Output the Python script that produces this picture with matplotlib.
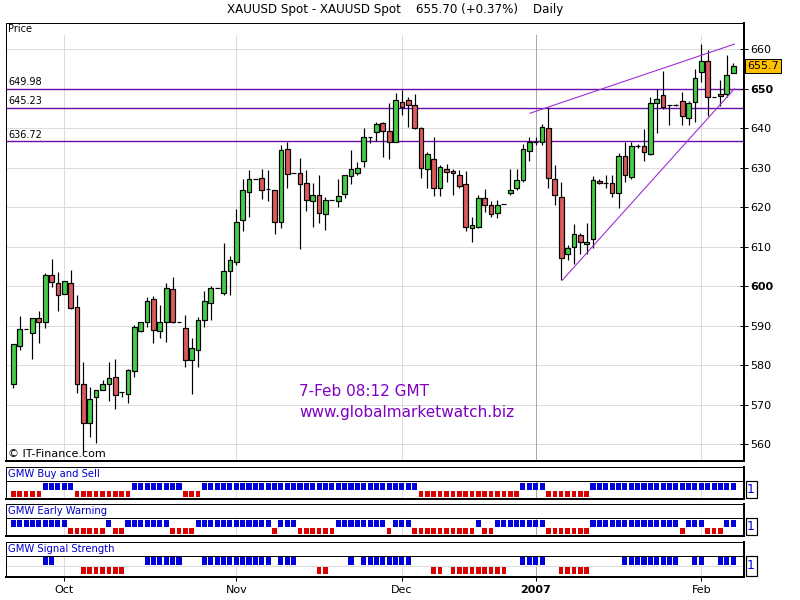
import matplotlib
matplotlib.use("Agg")
import matplotlib.pyplot as plt
from matplotlib.patches import Rectangle
from matplotlib.transforms import blended_transform_factory

# daily XAUUSD candles, 114 bars
opens = [575.2, 584.8, 589.3, 588.1, 591.9, 591.1, 602.9, 600.8, 598.1, 600.8,
         594.7, 575.4, 565.3, 571.9, 573.7, 575.4, 577.0, 573.2, 572.7, 578.5,
         588.8, 591.1, 596.7, 588.6, 591.1, 599.2, 591.1, 589.4, 581.4, 583.9,
         591.4, 595.7, 599.7, 598.2, 603.8, 606.1, 616.9, 623.8, 627.2, 627.5,
         624.6, 624.5, 616.4, 634.7, 628.6, 628.6, 626.1, 621.5, 623.0, 618.2,
         621.8, 621.5, 623.3, 627.8, 628.6, 631.6, 637.7, 639.0, 641.3, 639.2,
         636.4, 646.6, 647.1, 645.8, 640.0, 629.6, 632.1, 625.0, 629.6, 629.3,
         628.1, 625.8, 614.7, 614.9, 622.3, 620.5, 618.5, 620.9, 623.5, 624.9,
         626.9, 634.3, 636.4, 636.6, 640.0, 627.1, 622.5, 608.2, 610.0, 612.9,
         610.7, 612.1, 626.6, 626.1, 626.1, 623.5, 633.0, 627.7, 635.5, 635.5,
         633.5, 646.3, 648.4, 645.9, 645.9, 647.0, 642.5, 646.7, 654.2, 657.0,
         647.8, 648.6, 648.7, 654.0]
highs = [585.3, 592.5, 589.3, 591.9, 593.8, 603.3, 606.9, 603.6, 601.3, 604.1,
         597.8, 580.8, 574.6, 573.7, 576.3, 580.8, 581.6, 573.2, 579.2, 590.2,
         591.0, 597.4, 597.6, 595.3, 600.9, 602.4, 591.1, 592.7, 586.8, 592.2,
         598.8, 600.1, 599.7, 610.9, 607.8, 619.5, 627.2, 629.4, 627.2, 629.8,
         629.5, 624.5, 635.7, 636.5, 628.6, 632.6, 629.4, 626.1, 628.2, 622.5,
         621.8, 627.1, 628.2, 634.5, 631.5, 640.0, 637.7, 641.7, 641.5, 646.3,
         648.9, 649.7, 647.8, 648.6, 640.2, 634.1, 637.9, 630.7, 630.9, 629.8,
         629.4, 629.2, 617.6, 623.1, 624.7, 621.6, 621.9, 620.9, 629.6, 629.6,
         636.0, 637.7, 637.7, 641.1, 645.4, 630.7, 626.3, 610.4, 615.7, 613.6,
         615.9, 627.8, 627.1, 628.2, 628.2, 633.7, 636.6, 636.6, 636.0, 639.7,
         648.0, 649.9, 654.6, 645.9, 646.2, 649.2, 647.0, 654.9, 661.3, 659.8,
         647.8, 652.2, 658.6, 656.6]
lows = [574.2, 583.9, 589.3, 581.7, 585.7, 589.5, 599.9, 593.8, 598.0, 594.3,
        573.1, 558.1, 561.9, 560.3, 573.7, 571.1, 568.9, 572.1, 570.5, 577.0,
        588.5, 589.8, 585.6, 586.8, 586.0, 590.6, 591.1, 579.5, 572.7, 579.5,
        589.8, 591.6, 599.7, 597.7, 597.7, 605.3, 614.1, 617.6, 627.2, 622.1,
        621.7, 613.2, 614.8, 625.0, 628.6, 609.4, 619.1, 615.1, 616.1, 614.3,
        621.8, 620.2, 622.3, 626.0, 628.1, 630.3, 636.2, 636.8, 632.8, 632.2,
        636.4, 643.4, 640.4, 639.7, 627.5, 625.0, 622.9, 622.9, 626.3, 623.1,
        625.0, 614.1, 611.3, 614.8, 618.7, 617.6, 617.2, 620.9, 623.1, 624.5,
        626.5, 631.8, 635.7, 635.7, 625.0, 620.7, 601.6, 606.6, 605.6, 608.3,
        608.3, 609.8, 625.9, 624.8, 622.7, 619.9, 626.5, 627.1, 634.9, 631.8,
        633.2, 638.7, 645.0, 640.8, 645.6, 640.8, 640.8, 641.7, 651.8, 643.0,
        647.8, 645.7, 648.0, 653.9]
closes = [585.3, 589.1, 589.3, 591.9, 591.1, 602.9, 601.0, 597.7, 601.3, 594.6,
          575.2, 565.3, 571.6, 573.7, 575.4, 576.8, 572.4, 573.2, 578.8, 589.6,
          591.0, 596.2, 588.9, 591.1, 599.7, 591.0, 591.1, 581.4, 584.3, 591.4,
          596.2, 599.7, 599.7, 603.8, 606.6, 616.2, 624.3, 627.1, 627.2, 624.5,
          624.6, 616.2, 634.4, 628.5, 628.6, 625.8, 621.8, 623.0, 618.5, 621.8,
          621.8, 622.8, 628.1, 629.6, 629.9, 637.7, 637.7, 641.0, 639.2, 636.4,
          647.1, 645.5, 645.8, 640.0, 629.9, 633.4, 625.0, 630.1, 629.0, 628.6,
          625.5, 614.9, 615.5, 622.3, 620.7, 618.2, 620.7, 620.9, 624.5, 627.0,
          634.7, 636.4, 636.4, 640.2, 627.3, 623.1, 607.1, 609.7, 613.2, 611.1,
          611.3, 626.9, 626.1, 626.1, 623.7, 633.0, 628.1, 635.5, 635.5, 633.9,
          646.3, 647.3, 645.5, 645.9, 645.9, 643.1, 646.4, 652.6, 657.0, 647.8,
          647.8, 648.1, 653.5, 655.7]

last_price = 655.7
price_ticks = [560, 570, 580, 590, 600, 610, 620, 630, 640, 650, 660]
bold_ticks = [600, 650]
levels = [649.98, 645.23, 636.72]

# trend lines as (bar index, price) end points
trend_upper = [(81.1, 643.8), (113.2, 661.3)]
trend_lower = [(86.2, 601.6), (113.2, 650.0)]

month_idx = [8, 35, 61, 82, 108]
month_labels = ["Oct", "Nov", "Dec", "2007", "Feb"]
year_idx = 82

# indicator signals, run lengths per bar: B = blue, R = red, "-" = nothing
buy_sell_runs = [("R", 5), ("B", 5), ("R", 9), ("B", 8), ("R", 3), ("B", 34),
                 ("R", 16), ("B", 4), ("R", 7), ("B", 23)]
early_warning_runs = [("B", 9), ("R", 6), ("B", 1), ("R", 2), ("B", 7), ("R", 4),
                      ("B", 12), ("R", 1), ("B", 3), ("R", 6), ("B", 8), ("R", 1),
                      ("B", 3), ("R", 10), ("B", 1), ("R", 2), ("B", 8), ("R", 7),
                      ("B", 14), ("R", 1), ("B", 3), ("R", 3), ("B", 2)]
signal_strength_runs = [("-", 5), ("B", 2), ("-", 4), ("R", 7), ("-", 3), ("B", 6),
                        ("-", 3), ("B", 11), ("-", 1), ("B", 3), ("-", 3), ("R", 2),
                        ("-", 3), ("B", 1), ("-", 1), ("B", 8), ("-", 3), ("R", 2),
                        ("-", 1), ("R", 9), ("-", 2), ("B", 4), ("-", 2), ("R", 5),
                        ("-", 5), ("B", 9), ("-", 2), ("B", 2), ("-", 2), ("B", 3)]


def expand(runs):
    out = []
    for code, n in runs:
        out += [code] * n
    return out


W, H = 800, 600
PX = 0.72  # one pixel in points
GRID = "#dcdcdc"
YEAR_GRID = "#a8a8a8"
XLIM = (-1.15, 114.7)


def px_rect(x0, y0, x1, y1):
    return [x0 / W, 1 - y1 / H, (x1 - x0) / W, (y1 - y0) / H]


def frame(a, top=True):
    a.spines["left"].set_linewidth(PX)
    a.spines["top"].set_linewidth(PX)
    a.spines["top"].set_visible(top)
    a.spines["right"].set_linewidth(2 * PX)
    a.spines["bottom"].set_linewidth(2 * PX)


fig = plt.figure(figsize=(8, 6), dpi=100)

fig.text(395 / W, 1 - 10 / H, "XAUUSD Spot - XAUUSD Spot    655.70 (+0.37%)    Daily",
         ha="center", va="center", fontsize=8.6)

# header strip of the price panel
hdr = fig.add_axes(px_rect(6, 23, 744, 35))
hdr.set_xticks([])
hdr.set_yticks([])
frame(hdr)
hdr.spines["bottom"].set_linewidth(PX)
hdr.text(0.003, 0.5, "Price", transform=hdr.transAxes, va="center", fontsize=7)

# price panel
ax = fig.add_axes(px_rect(6, 35, 744, 461))
ax.set_xlim(XLIM)
ax.set_ylim(555.8, 663.6)
frame(ax, top=False)
for p in price_ticks:
    ax.axhline(p, color=GRID, lw=PX, zorder=0)
for i in month_idx:
    ax.axvline(i, color=YEAR_GRID if i == year_idx else GRID, lw=PX, zorder=0)
for lv in levels:
    ax.axhline(lv, color="#6a0dad", lw=1.4 * PX, zorder=1)
    ax.text(0.003, lv + 0.4, f"{lv:.2f}", transform=blended_transform_factory(ax.transAxes, ax.transData),
            va="bottom", ha="left", fontsize=7)

x = list(range(len(opens)))
ax.vlines(x, lows, highs, color="black", lw=PX * 1.2, zorder=2)
bottoms = [min(o, c) for o, c in zip(opens, closes)]
heights = [abs(c - o) for o, c in zip(opens, closes)]
colors = ["#44cc44" if c >= o else "#dd5a5a" for o, c in zip(opens, closes)]
ax.bar(x, heights, bottom=bottoms, width=0.74, color=colors, edgecolor="black",
       linewidth=PX * 1.2, zorder=3)

for line in (trend_upper, trend_lower):
    ax.plot([line[0][0], line[1][0]], [line[0][1], line[1][1]], color="#9b30d0", lw=PX * 1.1, zorder=4)

ax.set_xticks([])
ax.yaxis.tick_right()
ax.set_yticks(price_ticks)
ax.set_yticklabels([str(p) for p in price_ticks])
for lbl, p in zip(ax.get_yticklabels(), price_ticks):
    if p in bold_ticks:
        lbl.set_fontweight("bold")
ax.tick_params(axis="y", direction="inout", length=6, width=PX, pad=1.2, labelsize=8)

ax.text(1.0 + 3 / 738, last_price, f"{last_price:.1f}",
        transform=blended_transform_factory(ax.transAxes, ax.transData),
        va="center", ha="left", fontsize=8, clip_on=False,
        bbox=dict(boxstyle="square,pad=0.2", fc="#ffc000", ec="black", lw=PX))

fig.text(299 / W, 1 - 391 / H, "7-Feb 08:12 GMT", color="#8000c0", fontsize=11, va="center")
fig.text(299 / W, 1 - 412 / H, "www.globalmarketwatch.biz", color="#8000c0", fontsize=11, va="center")
fig.text(8 / W, 1 - 454 / H, "\u00a9 IT-Finance.com", fontsize=8, va="center")

# indicator panels: title, signals, top, separator, bottom, blue row, red row (pixels)
panels = [
    ("GMW Buy and Sell", expand(buy_sell_runs), 467, 481, 499, (482.5, 489.5), (491, 496.5)),
    ("GMW Early Warning", expand(early_warning_runs), 504, 518, 536, (519.5, 526.5), (528.3, 534)),
    ("GMW Signal Strength", expand(signal_strength_runs), 541.5, 555.5, 577, (557, 565.3), (566.8, 574)),
]

for k, (title, sig, top, sep, bot, brow, rrow) in enumerate(panels):
    a = fig.add_axes(px_rect(6, top, 744, bot))
    a.set_xlim(XLIM)
    a.set_ylim(bot - top, 0)
    frame(a)
    a.axhline(sep - top, color="black", lw=PX)
    a.vlines(month_idx, sep - top, bot - top,
             colors=[YEAR_GRID if i == year_idx else GRID for i in month_idx], lw=PX, zorder=0)
    a.text(0.003, (sep - top) / 2, title, transform=blended_transform_factory(a.transAxes, a.transData),
           va="center", ha="left", color="#0000cc", fontsize=7.2)
    blue = [i for i, s in enumerate(sig) if s == "B"]
    red = [i for i, s in enumerate(sig) if s == "R"]
    a.bar(blue, brow[1] - brow[0], bottom=brow[0] - top, width=0.8, color="#0000dd", zorder=2)
    a.bar(red, rrow[1] - rrow[0], bottom=rrow[0] - top, width=0.72, color="#dd0000", zorder=2)
    a.set_yticks([])
    if k == 2:
        mid = (brow[1] + rrow[0]) / 2 - top
        a.axhline(mid, color=GRID, lw=PX, zorder=0)
        a.set_xticks(month_idx)
        a.set_xticklabels(month_labels)
        a.tick_params(axis="x", direction="out", length=3, width=PX, pad=3, labelsize=8)
        for lbl, m in zip(a.get_xticklabels(), month_labels):
            if m == "2007":
                lbl.set_fontweight("bold")
    else:
        a.set_xticks([])
    # small "1" scale box at the right
    fig.add_artist(Rectangle((745.5 / W, 1 - (bot - 1.5) / H), 11 / W, (bot - sep - 1.5) / H,
                             transform=fig.transFigure, fc="white", ec="black", lw=PX * 1.2))
    fig.text(751 / W, 1 - (sep + bot - 1.5) / 2 / H, "1", color="#0000dd", fontsize=9,
             ha="center", va="center")

fig.savefig("out.png", dpi=100, facecolor="white")
